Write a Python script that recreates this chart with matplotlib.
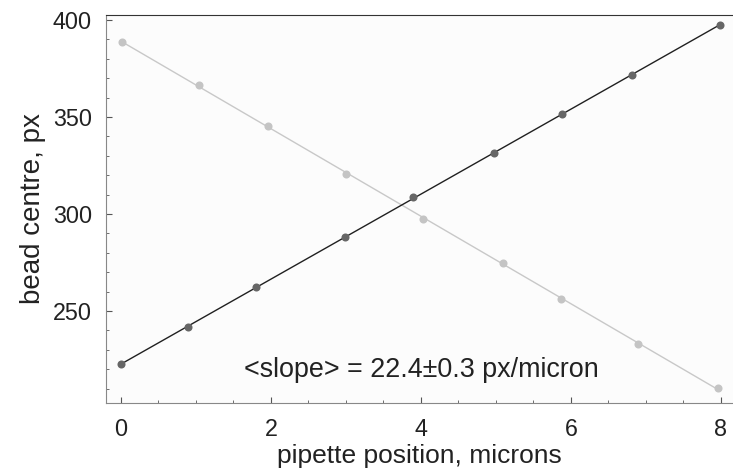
import numpy as np
import matplotlib
matplotlib.use("Agg")
import matplotlib.pyplot as plt
from matplotlib.ticker import MultipleLocator

plt.rcParams['font.family'] = ['Liberation Sans', 'DejaVu Sans']

# dark series (bead moving up)
x_dark = [0.0, 0.89, 1.80, 2.99, 3.90, 4.97, 5.88, 6.81, 7.99]
y_dark = [222.5, 241.9, 262.2, 288.3, 308.6, 331.3, 351.5, 371.8, 397.5]
# light series (bead moving down)
x_light = [0.01, 1.04, 1.96, 3.00, 4.03, 5.09, 5.87, 6.90, 7.96]
y_light = [388.5, 366.5, 345.5, 320.6, 297.3, 274.9, 256.2, 233.0, 210.3]

label_txt = "<slope> = 22.4\u00b10.3 px/micron"

fig = plt.figure(figsize=(7.33, 4.76), dpi=100)
ax = fig.add_axes([0.1446, 0.1534, 0.8554, 0.8151])
ax.set_facecolor('#fcfcfc')

for xs, ys, lc, mc in [(x_light, y_light, '#c8c8c8', '#c4c4c4'),
                       (x_dark, y_dark, '#202020', '#666666')]:
    p = np.polyfit(xs, ys, 1)
    xx = np.array([xs[0], xs[-1]])
    ax.plot(xx, np.polyval(p, xx), color=lc, lw=1.0, zorder=2)
    ax.plot(xs, ys, 'o', color=mc, ms=5.8, mec='none', zorder=3)

ax.text(4.01, 219.5, label_txt, ha='center', va='center', fontsize=19.4, color='#222222')

ax.set_xlim(-0.2, 8.16)
ax.set_ylim(202.6, 402.6)
ax.xaxis.set_major_locator(MultipleLocator(2))
ax.xaxis.set_minor_locator(MultipleLocator(0.5))
ax.yaxis.set_major_locator(MultipleLocator(50))
ax.yaxis.set_minor_locator(MultipleLocator(10))
ax.tick_params(which='both', direction='in', colors='#555555', labelcolor='#222222',
               top=False, right=False)
ax.tick_params(which='major', length=4, labelsize=16.8)
ax.tick_params(axis='x', which='major', pad=11)
ax.tick_params(axis='y', which='major', pad=10)
ax.tick_params(which='minor', length=2)

ax.spines['right'].set_visible(False)
ax.spines['top'].set_color('#333333')
ax.spines['left'].set_color('#888888')
ax.spines['bottom'].set_color('#888888')

ax.set_xlabel('pipette position, microns', fontsize=19, color='#222222', labelpad=2)
ax.set_ylabel('bead centre, px', fontsize=20, color='#222222', labelpad=5)

fig.savefig('out.png', dpi=100)
